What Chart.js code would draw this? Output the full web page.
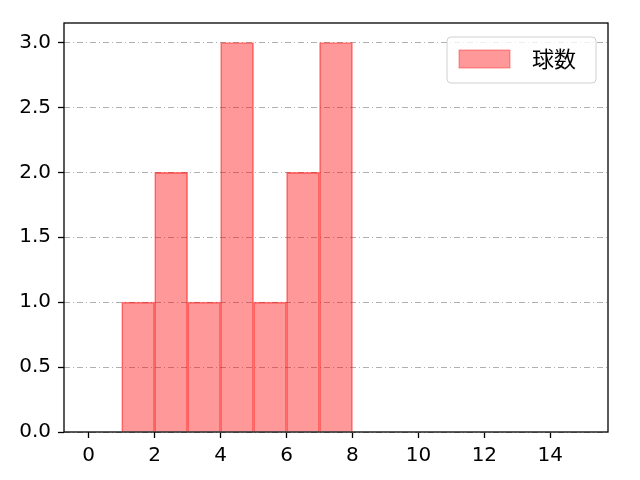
<!DOCTYPE html>
<html lang="ja">
<head>
<meta charset="UTF-8">
<title>球数</title>
<script src="https://cdn.jsdelivr.net/npm/chart.js"></script>
<style>
  html, body { margin: 0; padding: 0; background: #ffffff; }
  #wrap { width: 640px; height: 480px; }
</style>
</head>
<body>
<div id="wrap"><canvas id="histChart" width="640" height="480"></canvas></div>
<script>
  // ヒストグラムのビン（左端）と度数
  const binStarts = [1, 2, 3, 4, 5, 6, 7];
  const counts = [1, 2, 1, 3, 1, 2, 3];
  const xTicks = [0, 2, 4, 6, 8, 10, 12, 14];
  const yTicks = [0, 0.5, 1.0, 1.5, 2.0, 2.5, 3.0];
  const seriesLabel = '球数';

  const font = { family: "'DejaVu Sans', sans-serif", size: 20 };

  // 枠線と凡例を描く
  const framePlugin = {
    id: 'frame',
    afterDraw(chart) {
      const { ctx, chartArea: a } = chart;
      ctx.save();
      ctx.strokeStyle = '#000';
      ctx.lineWidth = 1.3;
      ctx.strokeRect(a.left, a.top, a.right - a.left, a.bottom - a.top);

      // legend
      const bx = 447, by = 37, bw = 149, bh = 46, r = 4;
      ctx.beginPath();
      ctx.moveTo(bx + r, by);
      ctx.arcTo(bx + bw, by, bx + bw, by + bh, r);
      ctx.arcTo(bx + bw, by + bh, bx, by + bh, r);
      ctx.arcTo(bx, by + bh, bx, by, r);
      ctx.arcTo(bx, by, bx + bw, by, r);
      ctx.closePath();
      ctx.fillStyle = 'rgba(255,255,255,0.8)';
      ctx.fill();
      ctx.strokeStyle = '#d0d0d0';
      ctx.lineWidth = 1;
      ctx.stroke();

      ctx.fillStyle = 'rgba(255,0,0,0.4)';
      ctx.fillRect(459, 50, 51, 18);
      ctx.strokeStyle = 'rgba(255,0,0,0.4)';
      ctx.strokeRect(459, 50, 51, 18);

      ctx.fillStyle = '#000';
      ctx.font = "22px 'Noto Sans CJK JP', sans-serif";
      ctx.textBaseline = 'middle';
      ctx.fillText(seriesLabel, 532, 59);
      ctx.restore();
    }
  };

  new Chart(document.getElementById('histChart'), {
    type: 'bar',
    data: {
      datasets: [{
        label: seriesLabel,
        data: binStarts.map((s, i) => ({ x: s + 0.5, y: counts[i] })),
        backgroundColor: 'rgba(255,0,0,0.4)',
        borderColor: 'rgba(255,0,0,0.5)',
        borderWidth: 1,
        barPercentage: 1,
        categoryPercentage: 1,
        grouped: false
      }]
    },
    options: {
      responsive: false,
      animation: false,
      layout: { padding: { top: 23, right: 32, left: 0, bottom: 0 } },
      plugins: { legend: { display: false }, tooltip: { enabled: false } },
      scales: {
        x: {
          type: 'linear',
          offset: false,
          min: -0.75,
          max: 15.75,
          afterBuildTicks(scale) { scale.ticks = xTicks.map(v => ({ value: v })); },
          afterFit(scale) { scale.height = 48; },
          ticks: { color: '#000', font, padding: 6, callback: v => v },
          grid: { offset: false, drawOnChartArea: false, tickLength: 6, tickWidth: 1.3, color: '#000' },
          border: { display: false }
        },
        y: {
          min: 0,
          max: 3.15,
          afterBuildTicks(scale) { scale.ticks = yTicks.map(v => ({ value: v })); },
          afterFit(scale) { scale.width = 64; },
          ticks: { color: '#000', font, padding: 7, callback: v => v.toFixed(1) },
          grid: {
            color: '#b0b0b0',
            lineWidth: 1,
            tickLength: 6,
            tickWidth: 1.3,
            tickColor: '#000',
            tickBorderDash: []
          },
          border: { display: false, dash: [6, 3, 1, 3] }
        }
      }
    },
    plugins: [framePlugin]
  });
</script>
</body>
</html>
